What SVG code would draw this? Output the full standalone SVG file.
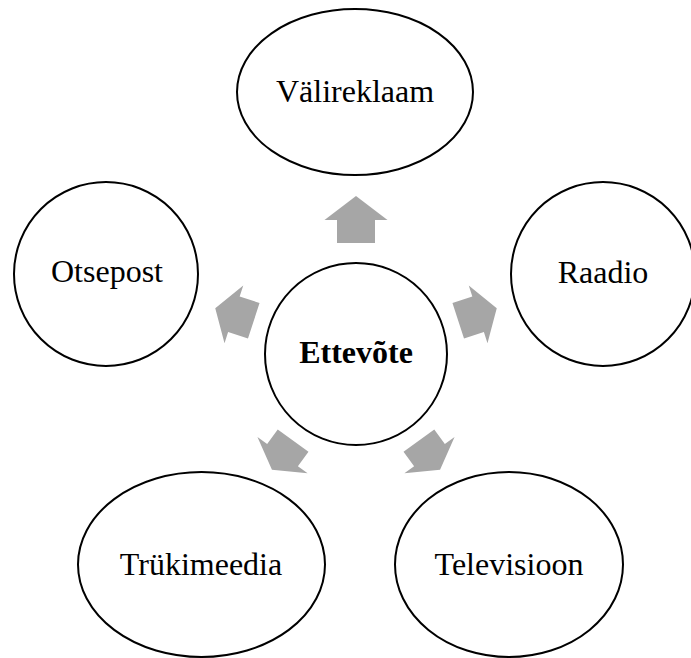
<svg xmlns="http://www.w3.org/2000/svg" width="691" height="658" viewBox="0 0 691 658">
<style>
.node{fill:#fff;stroke:#000;stroke-width:2}
.lbl{font-family:"Liberation Serif","Times New Roman",serif;font-size:32px;fill:#000;text-anchor:middle}
.arr{fill:#a6a6a6;stroke:none}
</style>
<rect width="691" height="658" fill="#fff"/>
<g id="connectors">
<path class="arr" transform="rotate(-90 356 354)" d="M467,335 L490,335 L490,322.5 L514,354 L490,385.5 L490,373 L467,373 Z"/>
<path class="arr" transform="rotate(-18 356 354)" d="M463.5,335.3 L484.4,335.3 L484.4,323.7 L504,354 L484.4,384.3 L484.4,372.7 L463.5,372.7 Z"/>
<path class="arr" transform="rotate(198 356 354)" d="M463.5,335.3 L484.4,335.3 L484.4,323.7 L504,354 L484.4,384.3 L484.4,372.7 L463.5,372.7 Z"/>
<path class="arr" transform="rotate(54 356 354)" d="M463,335 L481,335 L481,323 L499,354 L481,385 L481,373 L463,373 Z"/>
<path class="arr" transform="rotate(126 356 354)" d="M463,335 L481,335 L481,323 L499,354 L481,385 L481,373 L463,373 Z"/>
</g>
<g id="center">
<circle class="node" cx="356" cy="354" r="91"/>
<text class="lbl" x="356" y="363" font-weight="bold">Ettevõte</text>
</g>
<g id="valireklaam">
<ellipse class="node" cx="355" cy="92" rx="118" ry="83"/>
<text class="lbl" x="355" y="102">Välireklaam</text>
</g>
<g id="raadio">
<circle class="node" cx="603" cy="274" r="92"/>
<text class="lbl" x="603" y="283">Raadio</text>
</g>
<g id="otsepost">
<circle class="node" cx="106" cy="274" r="92"/>
<text class="lbl" x="107" y="282">Otsepost</text>
</g>
<g id="trukimeedia">
<ellipse class="node" cx="201.5" cy="564.5" rx="123.5" ry="92.5"/>
<text class="lbl" x="201" y="575">Trükimeedia</text>
</g>
<g id="televisioon">
<ellipse class="node" cx="509" cy="564.5" rx="114" ry="92.5"/>
<text class="lbl" x="509" y="575">Televisioon</text>
</g>
</svg>
